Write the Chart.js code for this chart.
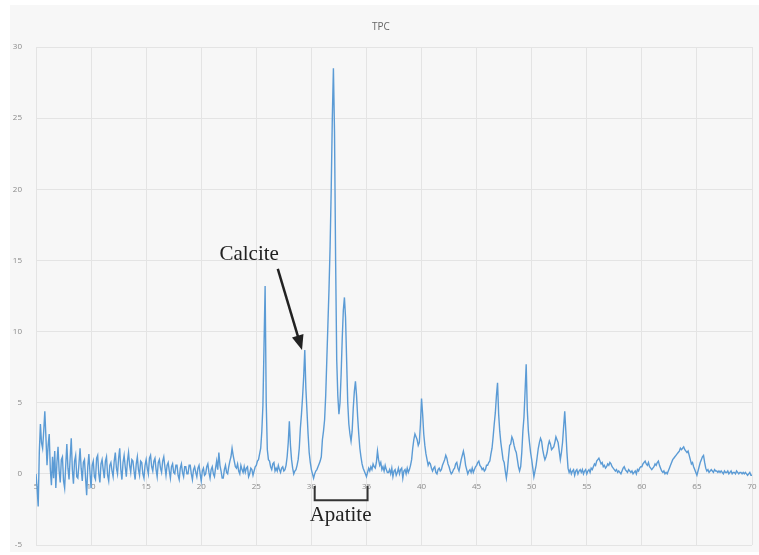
<!DOCTYPE html>
<html>
<head>
<meta charset="utf-8">
<script src="https://cdn.jsdelivr.net/npm/chart.js@4"></script>
<style>
  html, body { margin: 0; padding: 0; background: #fff; }
  #wrap { position: relative; width: 759px; height: 555px; }
  #panel { position: absolute; left: 10px; top: 5px; width: 749px; height: 547px; background: #f7f7f7; }
  #chart { position: absolute; left: 0; top: 0; }
</style>
</head>
<body>
<div id="wrap">
  <div id="panel"></div>
  <canvas id="chart" width="759" height="555"></canvas>
</div>
<script>
// 2-theta scan positions (degrees)
const twoTheta = [
  5.0,5.1,5.2,5.3,5.4,5.5,5.6,5.7,5.8,5.9,
  6.0,6.1,6.2,6.3,6.4,6.5,6.6,6.7,6.8,6.9,
  7.0,7.1,7.2,7.3,7.4,7.5,7.6,7.7,7.8,7.9,
  8.0,8.1,8.2,8.3,8.4,8.5,8.6,8.7,8.8,8.9,
  9.0,9.1,9.2,9.3,9.4,9.5,9.6,9.7,9.8,9.9,
  10.0,10.1,10.2,10.3,10.4,10.5,10.6,10.7,10.8,10.9,
  11.0,11.1,11.2,11.3,11.4,11.5,11.6,11.7,11.8,11.9,
  12.0,12.1,12.2,12.3,12.4,12.5,12.6,12.7,12.8,12.9,
  13.0,13.1,13.2,13.3,13.4,13.5,13.6,13.7,13.8,13.9,
  14.0,14.1,14.2,14.3,14.4,14.5,14.6,14.7,14.8,14.9,
  15.0,15.1,15.2,15.3,15.4,15.5,15.6,15.7,15.8,15.9,
  16.0,16.1,16.2,16.3,16.4,16.5,16.6,16.7,16.8,16.9,
  17.0,17.1,17.2,17.3,17.4,17.5,17.6,17.7,17.8,17.9,
  18.0,18.1,18.2,18.3,18.4,18.5,18.6,18.7,18.8,18.9,
  19.0,19.1,19.2,19.3,19.4,19.5,19.6,19.7,19.8,19.9,
  20.0,20.1,20.2,20.3,20.4,20.5,20.6,20.7,20.8,20.9,
  21.0,21.1,21.2,21.3,21.4,21.5,21.6,21.7,21.8,21.9,
  22.0,22.1,22.2,22.3,22.4,22.5,22.6,22.7,22.8,22.9,
  23.0,23.1,23.2,23.3,23.4,23.5,23.6,23.7,23.8,23.9,
  24.0,24.1,24.2,24.3,24.4,24.5,24.6,24.7,24.8,24.9,
  25.0,25.1,25.2,25.3,25.4,25.5,25.6,25.7,25.8,25.9,
  26.0,26.1,26.2,26.3,26.4,26.5,26.6,26.7,26.8,26.9,
  27.0,27.1,27.2,27.3,27.4,27.5,27.6,27.7,27.8,27.9,
  28.0,28.1,28.2,28.3,28.4,28.5,28.6,28.7,28.8,28.9,
  29.0,29.1,29.2,29.3,29.4,29.5,29.6,29.7,29.8,29.9,
  30.0,30.1,30.2,30.3,30.4,30.5,30.6,30.7,30.8,30.9,
  31.0,31.1,31.2,31.3,31.4,31.5,31.6,31.7,31.8,31.9,
  32.0,32.1,32.2,32.3,32.4,32.5,32.6,32.7,32.8,32.9,
  33.0,33.1,33.2,33.3,33.4,33.5,33.6,33.7,33.8,33.9,
  34.0,34.1,34.2,34.3,34.4,34.5,34.6,34.7,34.8,34.9,
  35.0,35.1,35.2,35.3,35.4,35.5,35.6,35.7,35.8,35.9,
  36.0,36.1,36.2,36.3,36.4,36.5,36.6,36.7,36.8,36.9,
  37.0,37.1,37.2,37.3,37.4,37.5,37.6,37.7,37.8,37.9,
  38.0,38.1,38.2,38.3,38.4,38.5,38.6,38.7,38.8,38.9,
  39.0,39.1,39.2,39.3,39.4,39.5,39.6,39.7,39.8,39.9,
  40.0,40.1,40.2,40.3,40.4,40.5,40.6,40.7,40.8,40.9,
  41.0,41.1,41.2,41.3,41.4,41.5,41.6,41.7,41.8,41.9,
  42.0,42.1,42.2,42.3,42.4,42.5,42.6,42.7,42.8,42.9,
  43.0,43.1,43.2,43.3,43.4,43.5,43.6,43.7,43.8,43.9,
  44.0,44.1,44.2,44.3,44.4,44.5,44.6,44.7,44.8,44.9,
  45.0,45.1,45.2,45.3,45.4,45.5,45.6,45.7,45.8,45.9,
  46.0,46.1,46.2,46.3,46.4,46.5,46.6,46.7,46.8,46.9,
  47.0,47.1,47.2,47.3,47.4,47.5,47.6,47.7,47.8,47.9,
  48.0,48.1,48.2,48.3,48.4,48.5,48.6,48.7,48.8,48.9,
  49.0,49.1,49.2,49.3,49.4,49.5,49.6,49.7,49.8,49.9,
  50.0,50.1,50.2,50.3,50.4,50.5,50.6,50.7,50.8,50.9,
  51.0,51.1,51.2,51.3,51.4,51.5,51.6,51.7,51.8,51.9,
  52.0,52.1,52.2,52.3,52.4,52.5,52.6,52.7,52.8,52.9,
  53.0,53.1,53.2,53.3,53.4,53.5,53.6,53.7,53.8,53.9,
  54.0,54.1,54.2,54.3,54.4,54.5,54.6,54.7,54.8,54.9,
  55.0,55.1,55.2,55.3,55.4,55.5,55.6,55.7,55.8,55.9,
  56.0,56.1,56.2,56.3,56.4,56.5,56.6,56.7,56.8,56.9,
  57.0,57.1,57.2,57.3,57.4,57.5,57.6,57.7,57.8,57.9,
  58.0,58.1,58.2,58.3,58.4,58.5,58.6,58.7,58.8,58.9,
  59.0,59.1,59.2,59.3,59.4,59.5,59.6,59.7,59.8,59.9,
  60.0,60.1,60.2,60.3,60.4,60.5,60.6,60.7,60.8,60.9,
  61.0,61.1,61.2,61.3,61.4,61.5,61.6,61.7,61.8,61.9,
  62.0,62.1,62.2,62.3,62.4,62.5,62.6,62.7,62.8,62.9,
  63.0,63.1,63.2,63.3,63.4,63.5,63.6,63.7,63.8,63.9,
  64.0,64.1,64.2,64.3,64.4,64.5,64.6,64.7,64.8,64.9,
  65.0,65.1,65.2,65.3,65.4,65.5,65.6,65.7,65.8,65.9,
  66.0,66.1,66.2,66.3,66.4,66.5,66.6,66.7,66.8,66.9,
  67.0,67.1,67.2,67.3,67.4,67.5,67.6,67.7,67.8,67.9,
  68.0,68.1,68.2,68.3,68.4,68.5,68.6,68.7,68.8,68.9,
  69.0,69.1,69.2,69.3,69.4,69.5,69.6,69.7,69.8,69.9,
  70.0
];

// intensity, one row per degree
const intensity = [
  0.0,-1.0,-2.3,1.5,3.5,2.2,1.8,3.0,4.4,2.6,
  0.6,2.0,2.8,0.3,-0.8,1.2,-0.3,1.6,-1.0,0.8,
  1.9,0.2,-0.6,1.0,1.2,-0.5,-1.0,0.6,2.1,0.4,
  -0.4,1.1,2.5,0.3,-0.7,0.9,1.3,-0.2,-0.3,0.7,
  1.8,0.4,-0.5,0.8,1.0,-0.3,-1.5,0.5,1.4,0.1,
  -1.0,0.6,0.9,-0.2,-0.4,1.1,1.3,0.0,-0.6,0.7,
  1.0,0.3,-0.3,0.9,1.2,-0.1,-0.5,0.6,0.8,0.2,
  -0.2,0.9,1.5,0.4,0.0,1.1,1.8,0.3,-0.4,0.8,
  1.3,0.5,-0.2,0.9,1.5,0.6,0.1,1.0,0.9,0.2,
  -0.4,0.7,1.2,0.3,-0.1,0.9,0.8,0.0,-0.3,0.6,
  1.0,0.4,0.0,1.1,1.3,0.5,0.2,0.9,1.1,0.3,
  -0.2,0.8,1.0,0.4,0.1,0.9,1.2,0.5,-0.1,0.6,
  0.8,0.2,-0.3,0.5,0.7,0.1,0.0,0.6,0.6,-0.1,
  -0.4,0.4,0.7,0.1,-0.2,0.5,0.5,0.0,0.0,0.6,
  0.6,0.0,-0.4,0.3,0.5,0.1,-0.2,0.4,0.6,0.0,
  -0.5,0.2,0.4,-0.1,0.0,0.5,0.7,0.1,-0.3,0.3,
  0.5,0.0,-0.2,0.4,0.9,0.3,1.5,0.6,0.2,-0.3,
  -0.3,0.3,0.6,0.1,0.0,0.5,0.9,1.2,1.8,1.3,
  0.9,0.5,0.4,0.7,0.2,0.0,0.6,0.3,0.1,0.5,
  0.1,0.4,0.5,-0.2,0.0,0.4,0.3,-0.1,0.2,0.5,
  0.6,0.9,1.0,1.4,1.8,3.0,4.8,9.0,13.2,5.0,
  1.7,1.0,0.9,0.5,0.3,0.7,0.8,0.2,0.4,0.2,
  0.6,0.3,0.1,0.4,0.5,0.2,0.3,0.6,1.2,2.2,
  3.7,2.0,1.0,0.4,0.0,0.2,0.3,0.6,1.0,1.8,
  3.2,4.2,5.4,6.8,8.7,6.0,4.4,2.8,1.5,0.8,
  0.3,0.0,-0.3,0.0,0.2,0.3,0.5,0.7,0.9,1.2,
  2.4,3.0,3.8,5.5,8.0,10.5,13.0,16.0,20.0,25.0,
  28.5,24.0,15.0,8.0,5.5,4.2,5.0,7.0,9.5,11.5,
  12.4,11.0,8.0,5.0,3.5,2.8,2.3,3.0,4.6,5.8,
  6.5,5.5,4.0,2.8,1.8,1.2,0.7,0.4,0.2,0.0,
  -0.2,0.1,0.4,0.2,0.5,0.3,0.7,0.5,0.4,0.8,
  1.6,1.0,0.6,0.8,0.3,0.5,0.2,0.6,0.3,0.1,
  0.1,0.3,0.0,0.4,-0.2,0.2,0.3,-0.1,0.1,0.4,
  0.0,0.3,0.4,-0.3,0.2,0.3,0.0,0.4,0.1,0.3,
  0.6,1.0,1.8,2.4,2.8,2.6,2.4,2.0,2.2,3.5,
  5.3,4.2,2.8,2.0,1.4,1.0,0.6,0.8,0.7,0.4,
  0.2,0.4,0.5,0.1,0.0,0.3,0.4,0.2,0.3,0.6,
  0.8,1.0,1.3,1.1,0.7,0.5,0.2,0.0,0.1,0.3,
  0.4,0.7,0.8,0.4,0.2,0.6,1.0,1.3,1.6,1.2,
  0.6,0.3,0.0,0.2,0.3,0.1,0.4,0.1,0.3,0.5,
  0.6,0.8,0.9,0.6,0.5,0.3,0.4,0.2,0.3,0.6,
  0.6,0.8,0.9,1.4,1.8,2.6,3.5,4.3,5.5,6.4,
  4.2,3.0,2.2,1.6,1.0,0.8,0.2,-0.3,0.3,1.2,
  2.0,2.1,2.6,2.4,2.0,1.7,1.5,1.0,0.5,0.2,
  0.5,1.5,3.0,4.0,5.8,7.7,4.5,3.0,2.2,1.5,
  1.0,0.4,-0.2,0.2,0.6,1.2,1.8,2.2,2.5,2.3,
  1.7,1.3,1.0,1.2,1.5,2.0,2.3,2.1,1.7,1.8,
  1.9,2.2,2.6,2.4,2.2,1.6,1.0,1.5,2.2,3.3,
  4.4,3.0,1.5,0.4,0.1,0.3,0.0,0.2,0.3,-0.1,
  0.2,0.3,0.0,0.2,0.3,0.1,0.3,0.0,0.2,0.3,
  0.0,0.2,0.3,0.1,0.4,0.3,0.5,0.7,0.6,0.9,
  1.0,1.1,0.9,0.7,0.8,0.5,0.6,0.4,0.5,0.7,
  0.6,0.8,0.7,0.5,0.4,0.3,0.2,0.3,0.1,0.2,
  0.1,0.0,0.2,0.4,0.5,0.3,0.2,0.1,0.3,0.2,
  0.1,0.2,0.0,0.1,0.2,0.0,0.3,0.2,0.4,0.5,
  0.5,0.7,0.8,0.9,0.7,0.6,0.8,0.5,0.4,0.3,
  0.4,0.5,0.7,0.6,0.8,0.9,0.6,0.4,0.2,0.1,
  0.2,0.0,0.1,0.0,0.2,0.4,0.6,0.8,1.0,1.1,
  1.2,1.3,1.4,1.5,1.6,1.8,1.7,1.8,1.9,1.7,
  1.6,1.5,1.6,1.3,1.0,0.7,0.8,0.5,0.3,0.1,
  -0.1,0.2,0.5,0.8,1.0,1.2,1.3,0.8,0.4,0.2,
  0.3,0.1,0.2,0.3,0.2,0.1,0.3,0.2,0.2,0.1,
  0.2,0.1,0.2,0.1,0.0,0.2,0.1,0.1,0.2,0.0,
  0.1,0.2,0.0,0.1,0.1,0.0,0.2,0.1,0.0,0.1,
  0.1,0.0,0.1,0.0,0.1,0.0,-0.1,0.0,0.1,-0.1,
  -0.1
];

const xTicks = [5, 10, 15, 20, 25, 30, 35, 40, 45, 50, 55, 60, 65, 70];
const yTicks = [-5, 0, 5, 10, 15, 20, 25, 30];

// annotations in data units
const calciteLabel = { text: 'Calcite', x: 24.35, y: 15.0 };
const calciteArrow = { from: [26.95, 14.4], to: [29.15, 8.7] };
const apatiteLabel = { text: 'Apatite', x: 32.65, y: -3.3 };
const apatiteRange = [30.3, 35.1];
const apatiteBracketY = [-0.85, -1.85];

const annotate = {
  id: 'annotate',
  afterDatasetsDraw(chart) {
    const { ctx, scales: { x, y } } = chart;
    ctx.save();
    ctx.fillStyle = '#222';
    ctx.strokeStyle = '#222';
    ctx.font = '21px "Liberation Serif", "Times New Roman", serif';
    ctx.textAlign = 'center';
    ctx.textBaseline = 'alphabetic';
    ctx.fillText(calciteLabel.text, x.getPixelForValue(calciteLabel.x), y.getPixelForValue(calciteLabel.y));
    ctx.fillText(apatiteLabel.text, x.getPixelForValue(apatiteLabel.x), y.getPixelForValue(apatiteLabel.y));

    // arrow to the calcite peak
    const x1 = x.getPixelForValue(calciteArrow.from[0]), y1 = y.getPixelForValue(calciteArrow.from[1]);
    const x2 = x.getPixelForValue(calciteArrow.to[0]), y2 = y.getPixelForValue(calciteArrow.to[1]);
    const ang = Math.atan2(y2 - y1, x2 - x1);
    const head = 15;
    ctx.lineWidth = 2.5;
    ctx.beginPath();
    ctx.moveTo(x1, y1);
    ctx.lineTo(x2 - Math.cos(ang) * head * 0.8, y2 - Math.sin(ang) * head * 0.8);
    ctx.stroke();
    ctx.beginPath();
    ctx.moveTo(x2, y2);
    ctx.lineTo(x2 - head * Math.cos(ang) + 6 * Math.sin(ang), y2 - head * Math.sin(ang) - 6 * Math.cos(ang));
    ctx.lineTo(x2 - head * Math.cos(ang) - 6 * Math.sin(ang), y2 - head * Math.sin(ang) + 6 * Math.cos(ang));
    ctx.closePath();
    ctx.fill();

    // apatite bracket
    const bl = x.getPixelForValue(apatiteRange[0]), br = x.getPixelForValue(apatiteRange[1]);
    const bt = y.getPixelForValue(apatiteBracketY[0]), bb = y.getPixelForValue(apatiteBracketY[1]);
    ctx.lineWidth = 2;
    ctx.strokeStyle = '#333';
    ctx.beginPath();
    ctx.moveTo(bl, bt);
    ctx.lineTo(bl, bb);
    ctx.lineTo(br, bb);
    ctx.lineTo(br, bt);
    ctx.stroke();
    ctx.restore();
  }
};

const points = twoTheta.map((t, i) => ({ x: t, y: intensity[i] }));
const tickFont = { family: '"Open Sans", "Liberation Sans", sans-serif', size: 8 };

function noEdgePadding(scale) {
  scale.paddingLeft = 0;
  scale.paddingRight = 0;
  scale.paddingTop = 0;
  scale.paddingBottom = 0;
}

new Chart(document.getElementById('chart'), {
  type: 'line',
  data: {
    datasets: [{
      label: 'TPC',
      data: points,
      borderColor: '#5b9bd5',
      borderWidth: 1.4,
      pointRadius: 0,
      tension: 0,
      fill: false,
    }]
  },
  options: {
    responsive: false,
    animation: false,
    layout: { padding: { left: 10, right: 7, top: 5, bottom: 10 } },
    plugins: {
      legend: { display: false },
      tooltip: { enabled: false },
      title: {
        display: true,
        text: 'TPC',
        color: '#666',
        font: { family: '"Open Sans", "Liberation Sans", sans-serif', size: 10, weight: 'normal' },
        padding: { top: 16, bottom: 14 },
      },
    },
    scales: {
      x: {
        type: 'linear',
        min: 5,
        max: 70,
        position: { y: 0 },
        afterFit(scale) { scale.height = 0; noEdgePadding(scale); },
        afterBuildTicks(scale) { scale.ticks = xTicks.map(v => ({ value: v })); },
        border: { display: false },
        grid: { color: '#e4e4e4', drawTicks: false },
        ticks: { color: '#8a8a8a', font: tickFont, padding: 8, maxRotation: 0 },
      },
      y: {
        min: -5,
        max: 30,
        afterFit(scale) { scale.width = 26; noEdgePadding(scale); },
        afterBuildTicks(scale) { scale.ticks = yTicks.map(v => ({ value: v })); },
        border: { display: false },
        grid: { color: '#e4e4e4', drawTicks: false },
        ticks: { color: '#8a8a8a', font: tickFont, padding: 14 },
      },
    },
  },
  plugins: [annotate],
});
</script>
</body>
</html>
